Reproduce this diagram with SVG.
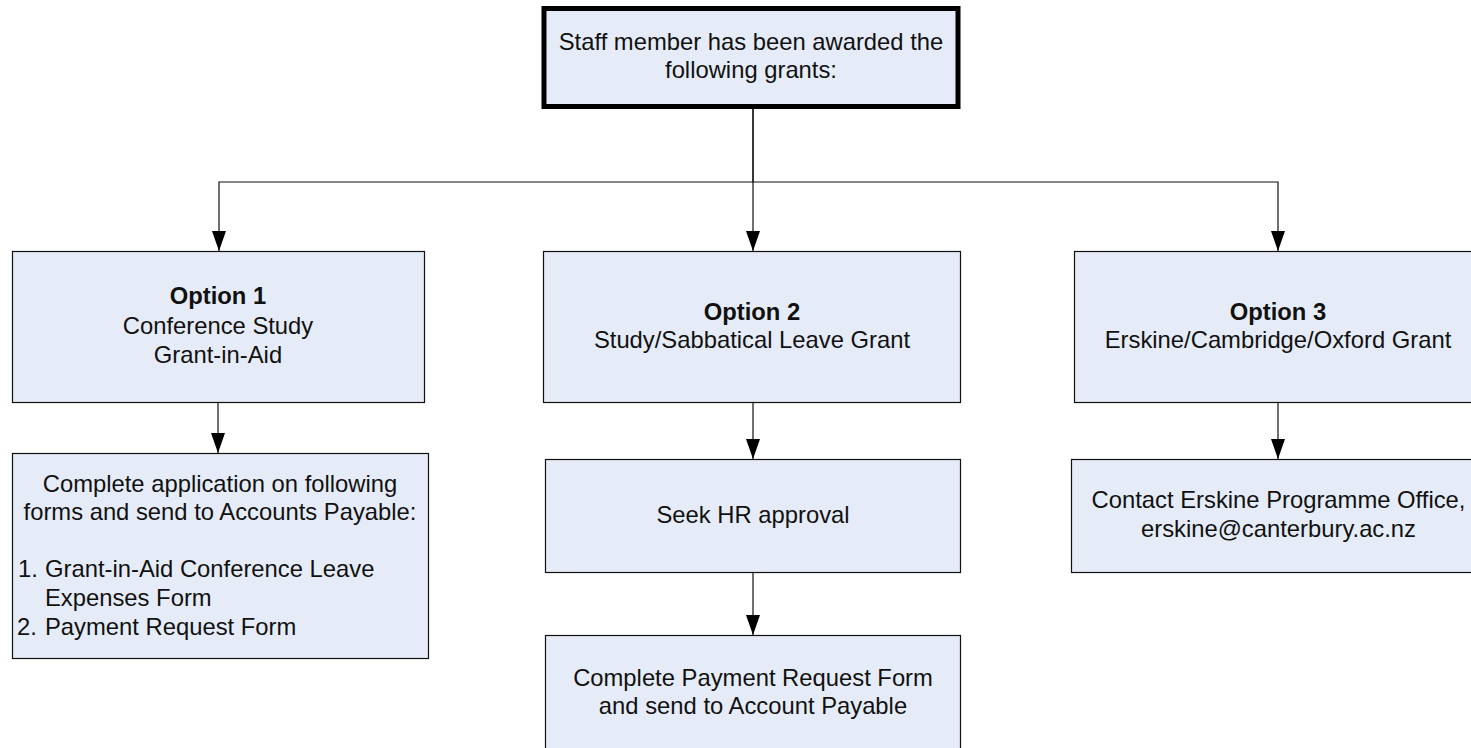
<svg xmlns="http://www.w3.org/2000/svg" width="1471" height="748" viewBox="0 0 1471 748">
<style>
.box{fill:#E6ECF7;stroke:#111;stroke-width:1.2}
.top{fill:#E6ECF7;stroke:#000;stroke-width:5}
.t{font-family:"Liberation Sans",Arial,sans-serif;font-size:23.8px;fill:#111;text-anchor:middle}
.l{font-family:"Liberation Sans",Arial,sans-serif;font-size:23.8px;fill:#111}
.b{font-weight:bold}
.c{fill:none;stroke:#111;stroke-width:1.2}
</style>
<defs>
<marker id="arr" viewBox="0 0 20 14" refX="20" refY="7" markerWidth="20" markerHeight="14" markerUnits="userSpaceOnUse" orient="auto">
<path d="M0,0 L20,7 L0,14 z" fill="#000"/>
</marker>
</defs>
<g id="connectors">
<path class="c" d="M753,109 V182 H219 V251" marker-end="url(#arr)"/>
<path class="c" d="M753,109 V251" marker-end="url(#arr)"/>
<path class="c" d="M753,182 H1278 V251" marker-end="url(#arr)"/>
<path class="c" d="M218,402 V453" marker-end="url(#arr)"/>
<path class="c" d="M753,403 V459" marker-end="url(#arr)"/>
<path class="c" d="M753,573 V635" marker-end="url(#arr)"/>
<path class="c" d="M1278,403 V459" marker-end="url(#arr)"/>
</g>
<g id="top">
<rect class="top" x="544" y="8.5" width="414" height="98"/>
<text class="t" x="751" y="50">Staff member has been awarded the</text>
<text class="t" x="751" y="78">following grants:</text>
</g>
<g id="option1">
<rect class="box" x="12.5" y="251.5" width="412" height="151"/>
<text class="t b" x="218" y="304">Option 1</text>
<text class="t" x="218" y="334">Conference Study</text>
<text class="t" x="218" y="363">Grant-in-Aid</text>
</g>
<g id="option1-forms">
<rect class="box" x="12.5" y="453.5" width="416" height="205"/>
<text class="t" x="220" y="492">Complete application on following</text>
<text class="t" x="220" y="520">forms and send to Accounts Payable:</text>
<text class="l" x="18" y="577">1.</text>
<text class="l" x="45" y="577">Grant-in-Aid Conference Leave</text>
<text class="l" x="45" y="606">Expenses Form</text>
<text class="l" x="17" y="635">2.</text>
<text class="l" x="45" y="635">Payment Request Form</text>
</g>
<g id="option2">
<rect class="box" x="543.5" y="251.5" width="417" height="151"/>
<text class="t b" x="752" y="320">Option 2</text>
<text class="t" x="752" y="348">Study/Sabbatical Leave Grant</text>
</g>
<g id="seek-hr">
<rect class="box" x="545.5" y="459.5" width="415" height="113"/>
<text class="t" x="753" y="523">Seek HR approval</text>
</g>
<g id="payment-request">
<rect class="box" x="545.5" y="635.5" width="415" height="130"/>
<text class="t" x="753" y="686">Complete Payment Request Form</text>
<text class="t" x="753" y="714">and send to Account Payable</text>
</g>
<g id="option3">
<rect class="box" x="1074.5" y="251.5" width="420" height="151"/>
<text class="t b" x="1278" y="320">Option 3</text>
<text class="t" x="1278" y="348">Erskine/Cambridge/Oxford Grant</text>
</g>
<g id="contact-erskine">
<rect class="box" x="1071.5" y="459.5" width="420" height="113"/>
<text class="t" x="1278.5" y="508">Contact Erskine Programme Office,</text>
<text class="t" x="1278.5" y="537">erskine@canterbury.ac.nz</text>
</g>
</svg>
